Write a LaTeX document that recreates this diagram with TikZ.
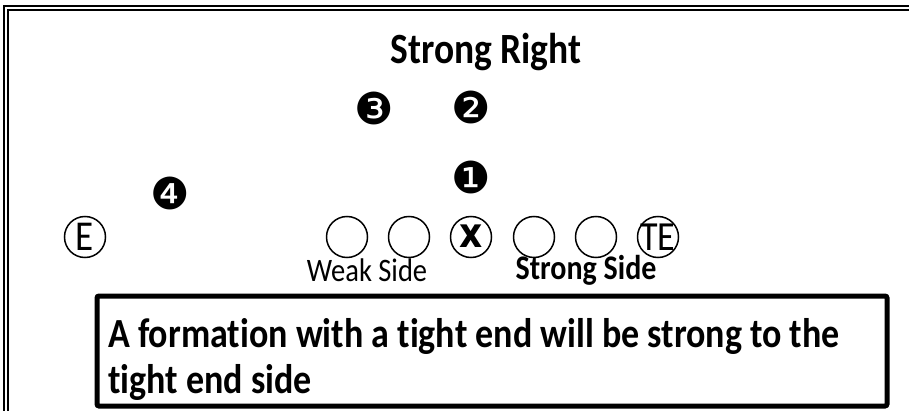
\documentclass[tikz,border=0pt]{standalone}
\usepackage{graphicx}
\usepackage{fontspec}
\setmainfont{Carlito}[Ligatures={NoCommon}]
\newfontfamily\dingfont{DejaVu Sans}
\newcommand{\tall}[1]{\scalebox{1}[1.15]{#1}}

\begin{document}
\begin{tikzpicture}[x=1pt,y=-1pt,
    player/.style={draw,circle,line width=1.5pt,minimum size=41pt,inner sep=0pt},
    marker/.style={font=\dingfont\fontsize{44}{44}\selectfont,inner sep=0pt},
    label/.style={inner sep=0pt,font=\fontsize{28.5}{29}\selectfont}]
            \useasboundingbox (0,0) rectangle (909,411);
            \clip (0,0) rectangle (909,411);
            \draw[line width=1.8pt,double,double distance=2.4pt] (6,8) rectangle (940,440);
            \node[inner sep=0pt,font=\fontsize{37.5}{37.5}\selectfont\bfseries] (title) at (486,52) {\tall{Strong Right}};
            \node[marker] (n3) at (374,108) {❸};
            \node[marker] (n2) at (471,107) {❷};
            \node[marker] (n1) at (471,177) {❶};
            \node[marker] (n4) at (170,193) {❹};
            \node[player,font=\fontsize{37}{37}\selectfont] (e) at (85,237) {\tall{E}};
            \node[player] (g1) at (347,237) {};
            \node[player] (g2) at (409,237) {};
            \node[player,font=\dingfont\fontsize{36}{36}\selectfont\bfseries] (c) at (471,237) {\raisebox{1pt}{\tall{x}}};
            \node[player] (g3) at (534,237) {};
            \node[player] (g4) at (596,237) {};
            \node[player,font=\fontsize{36}{36}\selectfont] (te) at (658,237) {\kern-2pt\tall{TE}\kern-2pt};
            \node[label] (weak) at (367,270) {\tall{Weak Side}};
            \node[label,font=\fontsize{30}{30}\selectfont\bfseries] (strong) at (586,270) {\tall{Strong Side}};
            \draw[line width=5pt,rounded corners=2pt] (97,296) rectangle (887,406);
            \node[anchor=north west,align=left,inner sep=0pt,font=\fontsize{36}{46.5}\selectfont\bfseries] (note) at (108,318)
                {\tall{A formation with a tight end will be strong to the}\\\tall{tight end side}};
        \end{tikzpicture}
\end{document}
